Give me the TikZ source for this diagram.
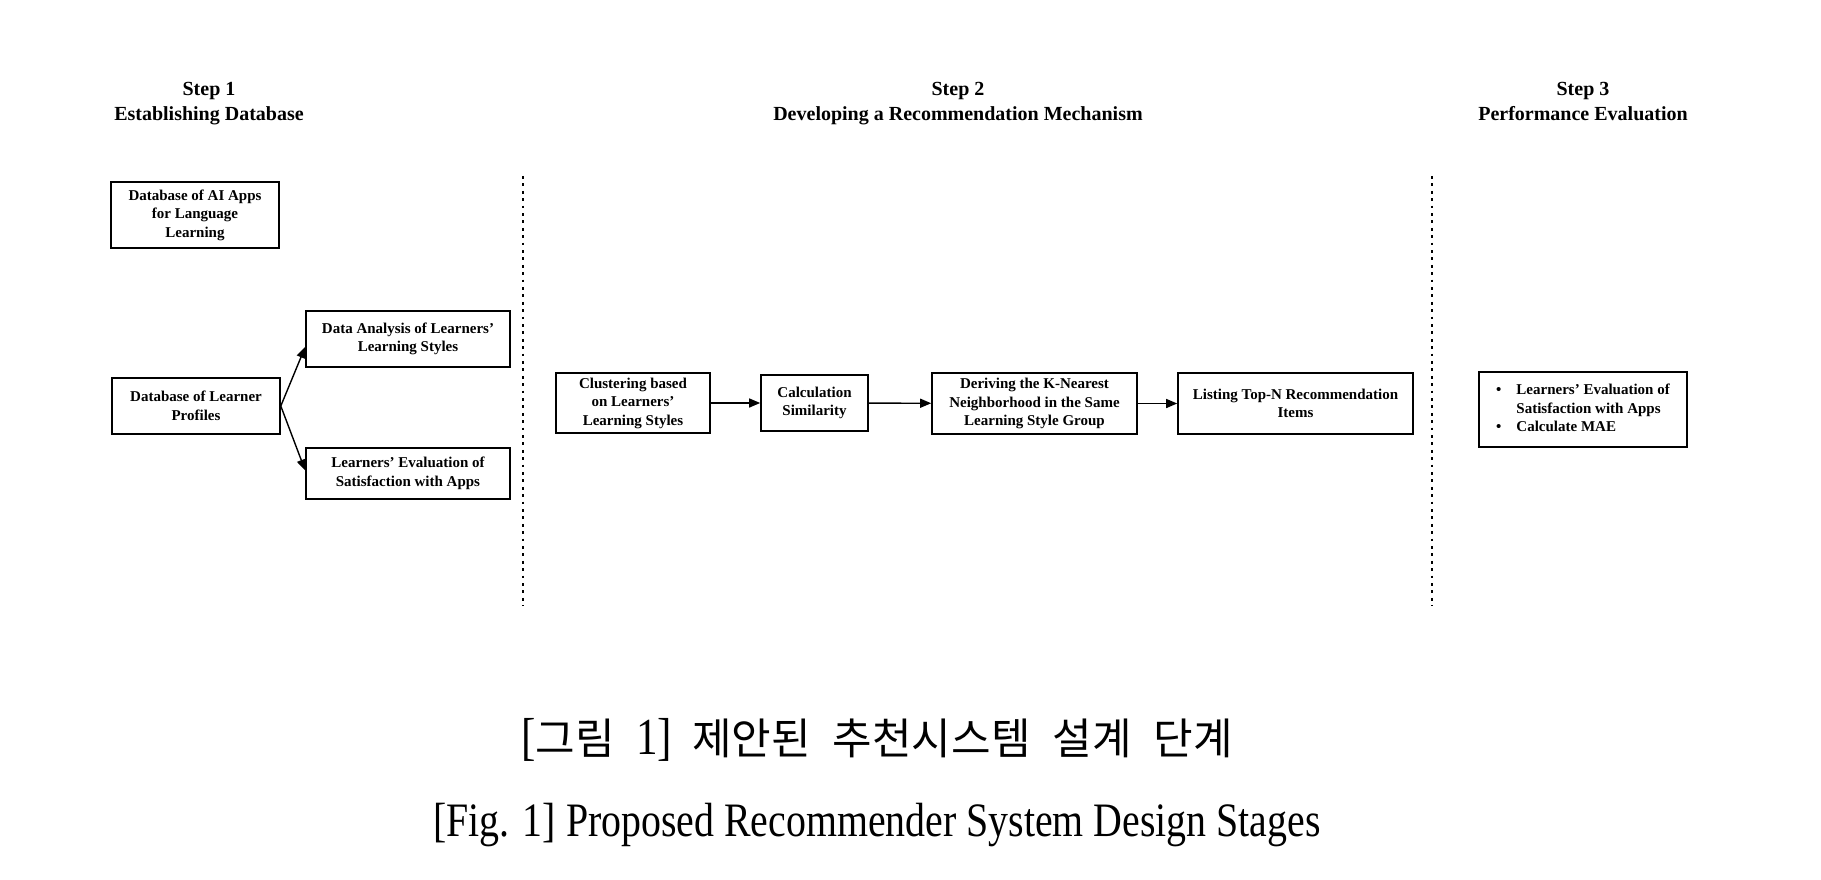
\documentclass[tikz,border=0pt]{standalone}
\usepackage{fontspec}
\setmainfont{Liberation Serif}
\newfontfamily\krfont{Noto Sans CJK KR}
\newfontfamily\capfont[FakeStretch=0.83]{Liberation Serif}
\usetikzlibrary{arrows.meta}

\tikzset{
  stagebox/.style={draw, line width=1.6pt, align=center, inner sep=1pt,
    font=\bfseries\fontsize{15}{18.5}\selectfont},
  steptitle/.style={anchor=north, align=center, font=\bfseries\fontsize{20}{25}\selectfont},
  flow/.style={-{Triangle[length=11pt,width=9pt]}, line width=1.4pt},
  divider/.style={line width=2.8pt, dash pattern=on 2.8pt off 4.6pt},
}

\begin{document}
\begin{tikzpicture}[x=1pt,y=-1pt]
\useasboundingbox (0,0) rectangle (1821,880);
\node[steptitle] (t1) at (209,79) {Step 1\\Establishing Database};
\node[steptitle] (t2) at (958,79) {Step 2\\Developing a Recommendation Mechanism};
\node[steptitle] (t3) at (1583,79) {Step 3\\Performance Evaluation};
\node[stagebox, minimum width=168pt, minimum height=66pt] (apps) at (195,215) {Database of AI Apps\\for Language\\Learning};
\node[stagebox, minimum width=168pt, minimum height=56pt] (prof) at (196,406) {Database of Learner\\Profiles};
\node[stagebox, minimum width=204pt, minimum height=56pt] (ana) at (408,339) {Data Analysis of Learners’\\Learning Styles};
\node[stagebox, minimum width=204pt, minimum height=51pt] (sat) at (408,473.5) {Learners’ Evaluation of\\Satisfaction with Apps};
\node[stagebox, minimum width=154pt, minimum height=60pt] (clus) at (633,403) {Clustering based\\on Learners’\\Learning Styles};
\node[stagebox, minimum width=107pt, minimum height=56pt] (calc) at (814.5,403) {Calculation\\Similarity};
\node[stagebox, minimum width=205pt, minimum height=61pt] (knn) at (1034.5,403.5) {Deriving the K-Nearest\\Neighborhood in the Same\\Learning Style Group};
\node[stagebox, minimum width=235pt, minimum height=61pt] (topn) at (1295.5,403.5) {Listing Top-N Recommendation\\Items};
\node[stagebox, minimum width=208pt, minimum height=75pt] (perf) at (1583,409.5) {\begin{tabular}{@{}l@{\hspace{15pt}}l@{}}\textbullet & Learners’ Evaluation of\\ & Satisfaction with Apps\\ \textbullet & Calculate MAE\end{tabular}};
\draw[flow] (prof.east) -- ([yshift=-8pt]ana.west);
\draw[flow] (prof.east) -- ([yshift=3pt]sat.west);
\draw[flow] (clus) -- (calc);
\draw[flow] (calc) -- (knn);
\draw[flow] (knn) -- (topn);
\coordinate (d1a) at (523,176);
\coordinate (d1b) at (523,606);
\coordinate (d2a) at (1432,176);
\coordinate (d2b) at (1432,606);
\draw[divider] (d1a) -- (d1b);
\draw[divider] (d2a) -- (d2b);
\node[font=\fontsize{43}{50}\selectfont] (capkr) at (877,740) {{\capfont\fontsize{52}{56}\selectfont[}{\krfont 그림}~~{\capfont\fontsize{52}{56}\selectfont 1]}\hspace{20pt}{\krfont 제안된\hspace{22pt}추천시스템\hspace{22pt}설계\hspace{22pt}단계}};
\node[font=\capfont\fontsize{48}{56}\selectfont] (capen) at (877,825) {[Fig. 1] Proposed Recommender System Design Stages};
\end{tikzpicture}
\end{document}
